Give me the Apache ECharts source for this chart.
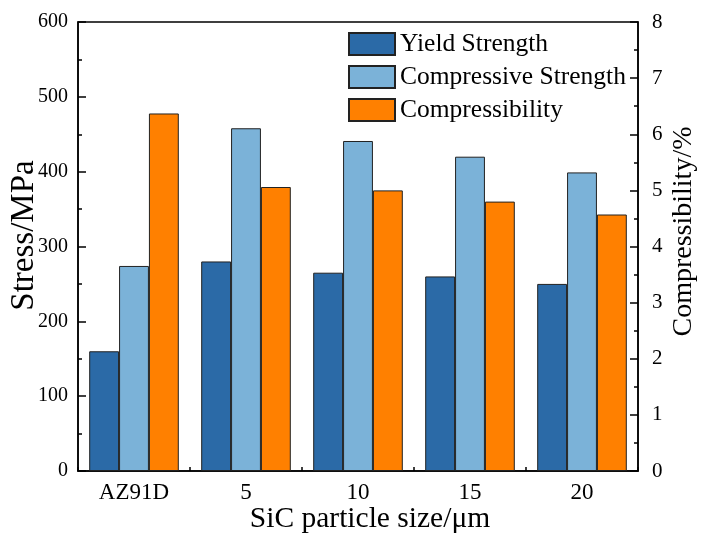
<!DOCTYPE html>
<html>
<head>
<meta charset="utf-8">
<script src="https://cdn.jsdelivr.net/npm/echarts@6/dist/echarts.min.js"></script>
<style>
  html, body { margin: 0; padding: 0; background: #fff; }
  #chart { width: 701px; height: 535px; }
</style>
</head>
<body>
<div id="chart"></div>
<script>
// Particle size groups
var categories = ['AZ91D', '5', '10', '15', '20'];
// Strength values, MPa (left axis)
var yieldStrength = [160, 280, 265, 260, 250];
var compressiveStrength = [274, 458, 441, 420, 399];
// Compressibility, % (right axis)
var compressibility = [6.37, 5.06, 5.0, 4.8, 4.57];

var FONT = 'Liberation Serif';
var border = { borderColor: '#222', borderWidth: 1 };

var chart = echarts.init(document.getElementById('chart'), null, { renderer: 'canvas' });

chart.setOption({
  animation: false,
  backgroundColor: '#fff',
  textStyle: { fontFamily: FONT, color: '#000' },
  grid: {
    left: 78, right: 63, top: 22, bottom: 64,
    containLabel: false,
    outerBoundsMode: 'none',
    show: true, borderColor: '#000', borderWidth: 1.5, backgroundColor: 'transparent'
  },
  legend: {
    left: 348, top: 31,
    padding: 0,
    orient: 'vertical',
    icon: 'rect',
    itemWidth: 46, itemHeight: 22, itemGap: 7,
    textStyle: { fontFamily: FONT, fontSize: 25.5, lineHeight: 25, color: '#000' },
    data: ['Yield Strength', 'Compressive Strength', 'Compressibility']
  },
  xAxis: [
    {
      type: 'category',
      data: categories,
      name: 'SiC particle size/\u03bcm',
      nameLocation: 'middle',
      nameGap: 33,
      nameMoveOverlap: false,
      nameTextStyle: { fontFamily: FONT, fontSize: 29.5, color: '#000', padding: [0, 0, 0, 24] },
      axisLine: { show: true, lineStyle: { color: '#000', width: 1.5 } },
      axisTick: { show: true, inside: true, alignWithLabel: true, length: 8, lineStyle: { color: '#000', width: 1.5 } },
      axisLabel: { fontFamily: FONT, fontSize: 23, color: '#000', margin: 10 },
      splitLine: { show: false }
    },
    {
      // boundary ticks between groups
      type: 'category',
      data: categories,
      position: 'bottom',
      axisLine: { show: false },
      axisTick: { show: true, inside: true, length: 4, lineStyle: { color: '#000', width: 1.5 } },
      axisLabel: { show: false },
      splitLine: { show: false }
    }
  ],
  yAxis: [
    {
      type: 'value',
      min: 0, max: 600, interval: 100,
      name: 'Stress/MPa',
      nameLocation: 'middle',
      nameGap: 37,
      nameMoveOverlap: false,
      nameTextStyle: { fontFamily: FONT, fontSize: 33, color: '#000', padding: [0, 0, 0, 22] },
      axisLine: { show: true, lineStyle: { color: '#000', width: 1.5 } },
      axisTick: { show: true, inside: true, length: 8, lineStyle: { color: '#000', width: 1.5 } },
      minorTick: { show: true, splitNumber: 2, length: 4, lineStyle: { color: '#000', width: 1.5 } },
      axisLabel: { fontFamily: FONT, fontSize: 20, color: '#000', margin: 10 },
      splitLine: { show: false }
    },
    {
      type: 'value',
      min: 0, max: 8, interval: 1,
      position: 'right',
      name: 'Compressibility/%',
      nameLocation: 'middle',
      nameGap: 32,
      nameMoveOverlap: false,
      nameTextStyle: { fontFamily: FONT, fontSize: 28, color: '#000', padding: [0, 0, 0, 30] },
      axisLine: { show: true, lineStyle: { color: '#000', width: 1.5 } },
      axisTick: { show: true, inside: true, length: 8, lineStyle: { color: '#000', width: 1.5 } },
      minorTick: { show: true, splitNumber: 2, length: 4, lineStyle: { color: '#000', width: 1.5 } },
      axisLabel: { fontFamily: FONT, fontSize: 21, color: '#000', margin: 14 },
      splitLine: { show: false }
    }
  ],
  series: [
    {
      name: 'Yield Strength', type: 'bar', yAxisIndex: 0,
      data: yieldStrength,
      barGap: '0%', barCategoryGap: '20%',
      itemStyle: Object.assign({ color: '#2B6AA7' }, border)
    },
    {
      name: 'Compressive Strength', type: 'bar', yAxisIndex: 0,
      data: compressiveStrength,
      barGap: '0%', barCategoryGap: '20%',
      itemStyle: Object.assign({ color: '#7BB2D8' }, border)
    },
    {
      name: 'Compressibility', type: 'bar', yAxisIndex: 1,
      data: compressibility,
      barGap: '0%', barCategoryGap: '20%',
      itemStyle: Object.assign({ color: '#FF8000' }, border)
    }
  ]
});
</script>
</body>
</html>
